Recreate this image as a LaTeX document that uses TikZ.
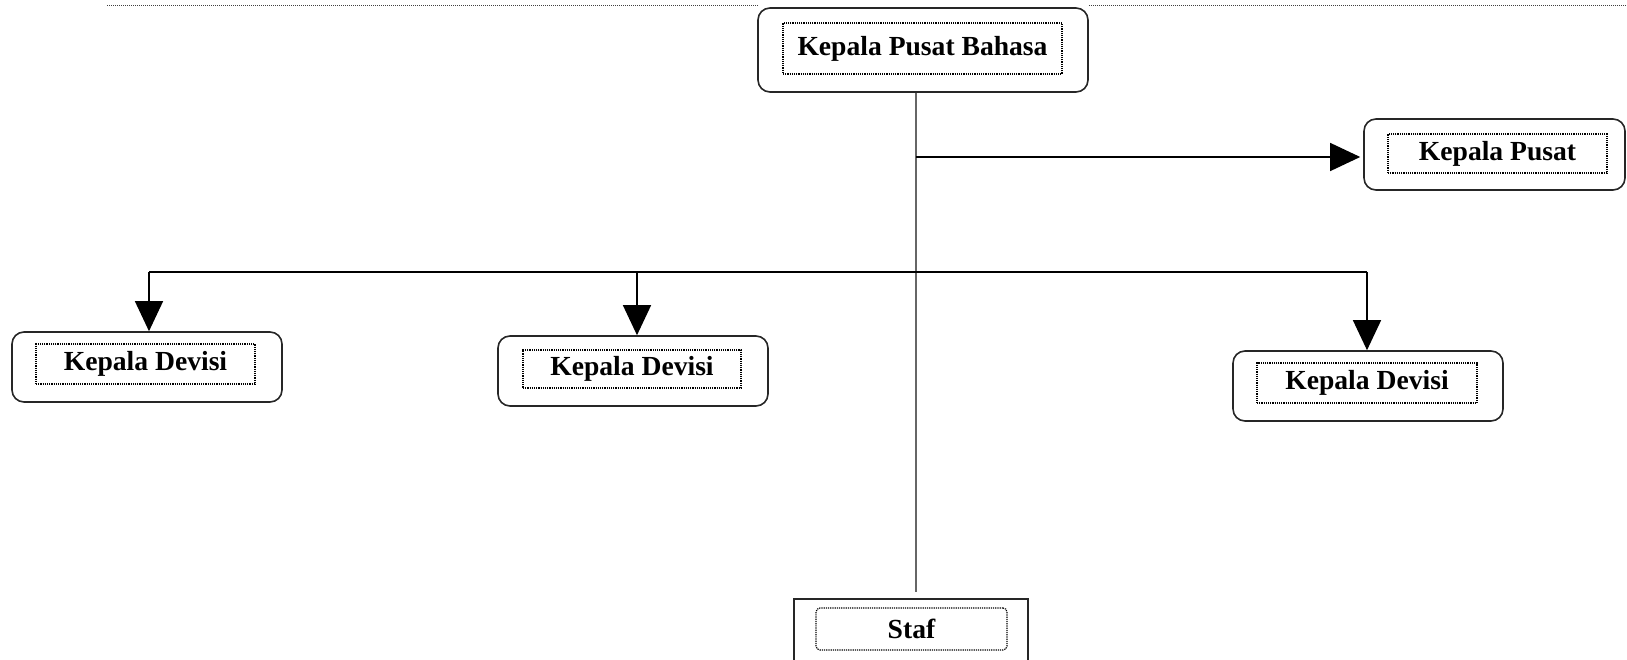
\documentclass[tikz,border=0pt]{standalone}
\usepackage{fontspec}
\setmainfont{Liberation Serif}
\usetikzlibrary{arrows.meta}
\begin{document}
\begin{tikzpicture}[x=1pt,y=-1pt,
  outerbox/.style={draw=black!85, line width=1.6pt, rounded corners=12pt, fill=white, inner sep=0pt},
  squarebox/.style={draw=black!85, line width=1.3pt, fill=white, inner sep=0pt},
  labelbox/.style={draw=black, line width=1.2pt, dash pattern=on 1.2pt off 1pt, inner sep=0pt,
                   font=\fontsize{27.6}{30}\selectfont\bfseries},
  link/.style={draw=black, line width=1.3pt},
  trunk/.style={draw=black!60, line width=1.8pt},
  arr/.style={link, -{Triangle[length=30pt,width=28pt]}},
  rule/.style={draw=black!75, line width=1pt, dash pattern=on 1pt off 1pt},
]
\useasboundingbox (0,0) rectangle (1627,660);

% thin dotted rule along the top edge
\coordinate (ruleL) at (107,6);
\coordinate (ruleR) at (1627,6);

% outer frames
\node[outerbox, minimum width=330pt, minimum height=84pt] (top)   at (923,50) {};
\node[outerbox, minimum width=261pt, minimum height=71pt] (pusat) at (1494.5,154.5) {};
\node[outerbox, minimum width=270pt, minimum height=70pt] (dev1)  at (147,367) {};
\node[outerbox, minimum width=270pt, minimum height=70pt] (dev2)  at (633,371) {};
\node[outerbox, minimum width=270pt, minimum height=70pt] (dev3)  at (1368,386) {};
\node[squarebox, minimum width=234pt, minimum height=82pt] (staf) at (911,640) {};

% dotted label frames with the titles
\node[labelbox, minimum width=279pt, minimum height=51pt] (topl)   at (922.5,48.5) {Kepala Pusat Bahasa};
\node[labelbox, minimum width=219pt, minimum height=39pt] (pusatl) at (1497.5,153.5) {Kepala Pusat};
\node[labelbox, minimum width=219pt, minimum height=40pt] (dev1l)  at (145.5,364) {Kepala Devisi};
\node[labelbox, minimum width=218pt, minimum height=38pt] (dev2l)  at (632,369) {Kepala Devisi};
\node[labelbox, minimum width=220pt, minimum height=40pt] (dev3l)  at (1367,383) {Kepala Devisi};
\node[labelbox, rounded corners=4pt, minimum width=191pt, minimum height=42pt] (stafl) at (911.5,629) {Staf};

\draw[rule] (ruleL) -- (top.west |- ruleL);
\draw[rule] (top.east |- ruleR) -- (ruleR);

% junction points
\coordinate (j1) at (916,157);
\coordinate (b1) at (149,272);
\coordinate (b2) at (637,272);
\coordinate (b3) at (1367,272);

% main trunk down to the staff
\draw[trunk, shorten >=6pt] (j1 |- top.south) -- (j1 |- staf.north);

% branch to Kepala Pusat
\draw[arr, shorten >=3pt] (j1) -- (pusat.west |- j1);

% bus to the divisions
\draw[link] (b1) -- (b3);
\draw[arr] (b1) -- (b1 |- dev1.north);
\draw[arr] (b2) -- (b2 |- dev2.north);
\draw[arr] (b3) -- (b3 |- dev3.north);
\end{tikzpicture}
\end{document}
